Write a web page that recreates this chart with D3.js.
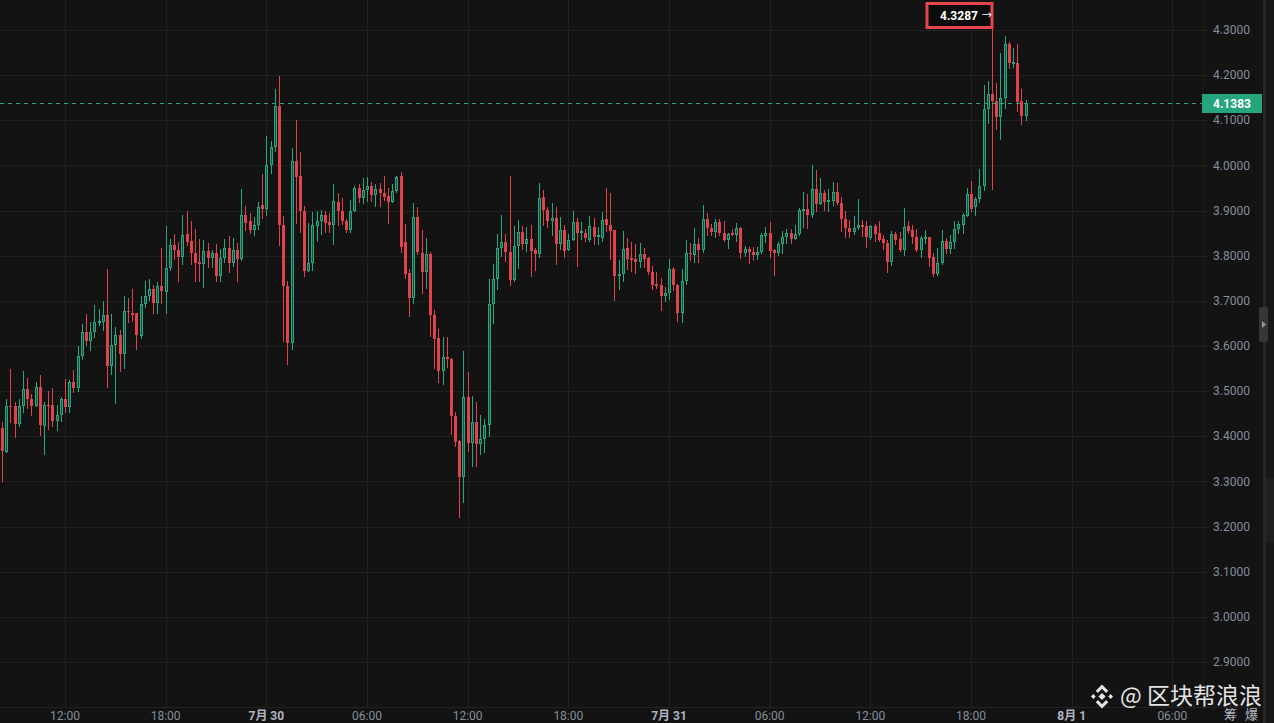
<!DOCTYPE html>
<html lang="zh-CN">
<head>
  <meta charset="utf-8">
  <script src="https://d3js.org/d3.v7.min.js"></script>
  <style>
    html, body { margin: 0; padding: 0; background: #131313; overflow: hidden; }
    svg { display: block; font-family: Roboto, "Noto Sans CJK SC", sans-serif; }
  </style>
</head>
<body>
  <div id="chart"></div>

  <script type="text/javascript">
    "use strict"

    // 15 minute candles, the first one opens 7/29 08:15
    var firstCandle = Date.UTC(2024, 6, 29, 8, 15);
    var step = 15 * 60 * 1000;

    var open = [
      3.419,3.366,3.468,3.466,3.427,3.468,3.505,3.483,3.467,3.510,
      3.423,3.470,3.470,3.434,3.447,3.483,3.465,3.521,3.507,3.577,
      3.631,3.611,3.631,3.651,3.654,3.669,3.556,3.603,3.625,3.583,
      3.678,3.673,3.672,3.622,3.693,3.711,3.726,3.695,3.733,3.720,
      3.773,3.823,3.813,3.798,3.848,3.833,3.807,3.785,3.782,3.811,
      3.795,3.806,3.756,3.795,3.817,3.784,3.813,3.792,3.890,3.876,
      3.856,3.867,3.912,3.904,4.000,4.040,4.131,3.868,3.732,3.607,
      4.009,3.976,3.900,3.766,3.783,3.865,3.876,3.890,3.875,3.867,
      3.918,3.899,3.878,3.858,3.900,3.949,3.927,3.945,3.955,3.935,
      3.948,3.938,3.932,3.918,3.944,3.976,3.830,3.761,3.707,3.885,
      3.806,3.764,3.804,3.669,3.618,3.545,3.576,3.572,3.445,3.389,
      3.309,3.486,3.386,3.432,3.384,3.395,3.425,3.694,3.749,3.817,
      3.831,3.809,3.747,3.821,3.853,3.825,3.837,3.812,3.803,3.930,
      3.902,3.876,3.884,3.826,3.858,3.812,3.834,3.875,3.851,3.851,
      3.834,3.864,3.841,3.840,3.882,3.869,3.856,3.755,3.760,3.817,
      3.795,3.792,3.786,3.803,3.794,3.763,3.737,3.735,3.711,3.718,
      3.770,3.735,3.673,3.743,3.807,3.802,3.827,3.813,3.882,3.862,
      3.853,3.875,3.851,3.835,3.850,3.845,3.862,3.807,3.814,3.808,
      3.801,3.808,3.844,3.850,3.812,3.805,3.827,3.842,3.851,3.836,
      3.849,3.900,3.904,3.890,3.947,3.915,3.940,3.919,3.922,3.942,
      3.917,3.881,3.862,3.853,3.862,3.869,3.866,3.840,3.865,3.851,
      3.836,3.829,3.785,3.848,3.837,3.813,3.866,3.857,3.841,3.813,
      3.838,3.841,3.798,3.759,3.783,3.833,3.814,3.831,3.859,3.868,
      3.888,3.937,3.907,3.925,3.955,4.124,4.159,4.142,4.108,4.150,
      4.268,4.225,4.227,4.142,4.109
    ];

    var high = [
      3.432,3.482,3.548,3.475,3.482,3.544,3.529,3.494,3.521,3.535,
      3.475,3.501,3.508,3.470,3.488,3.526,3.525,3.546,3.600,3.648,
      3.671,3.654,3.690,3.683,3.699,3.770,3.670,3.641,3.635,3.710,
      3.707,3.726,3.674,3.711,3.743,3.749,3.736,3.741,3.817,3.866,
      3.837,3.848,3.831,3.890,3.899,3.877,3.859,3.838,3.834,3.829,
      3.812,3.826,3.815,3.837,3.843,3.839,3.828,3.947,3.911,3.894,
      3.885,3.918,3.981,4.065,4.054,4.169,4.199,3.889,3.744,4.038,
      4.101,4.029,3.911,3.872,3.896,3.898,3.901,3.900,3.895,3.959,
      3.939,3.927,3.882,3.924,3.954,3.959,3.972,3.974,3.963,3.959,
      3.961,3.977,3.950,3.959,3.976,3.985,3.871,3.770,3.917,3.908,
      3.858,3.840,3.808,3.680,3.638,3.621,3.619,3.574,3.453,3.392,
      3.589,3.543,3.490,3.475,3.447,3.438,3.749,3.781,3.849,3.891,
      3.847,3.977,3.865,3.880,3.865,3.864,3.867,3.816,3.960,3.946,
      3.907,3.917,3.907,3.886,3.869,3.847,3.900,3.884,3.875,3.859,
      3.887,3.884,3.864,3.896,3.950,3.939,3.858,3.790,3.854,3.840,
      3.830,3.827,3.828,3.816,3.798,3.777,3.763,3.750,3.730,3.792,
      3.776,3.737,3.770,3.835,3.829,3.861,3.840,3.912,3.895,3.870,
      3.881,3.881,3.877,3.851,3.860,3.873,3.864,3.822,3.820,3.820,
      3.820,3.850,3.864,3.875,3.814,3.831,3.855,3.860,3.860,3.867,
      3.906,3.941,3.936,4.000,3.989,3.973,3.945,3.947,3.963,3.960,
      3.929,3.899,3.879,3.889,3.926,3.880,3.878,3.867,3.870,3.877,
      3.845,3.835,3.855,3.853,3.852,3.906,3.877,3.867,3.859,3.844,
      3.857,3.842,3.806,3.817,3.856,3.839,3.846,3.876,3.876,3.895,
      3.951,3.965,3.931,3.993,4.178,4.187,4.3287,4.183,4.248,4.286,
      4.273,4.261,4.268,4.170,4.146
    ];

    var low = [
      3.301,3.366,3.432,3.399,3.423,3.454,3.463,3.447,3.467,3.403,
      3.361,3.417,3.423,3.414,3.434,3.454,3.454,3.497,3.500,3.572,
      3.602,3.591,3.620,3.646,3.635,3.510,3.537,3.474,3.545,3.552,
      3.654,3.655,3.594,3.618,3.686,3.701,3.672,3.672,3.695,3.673,
      3.769,3.792,3.745,3.782,3.823,3.782,3.743,3.745,3.731,3.775,
      3.775,3.744,3.743,3.785,3.765,3.778,3.745,3.791,3.857,3.850,
      3.845,3.859,3.883,3.890,3.983,4.033,3.823,3.612,3.560,3.594,
      3.872,3.853,3.756,3.766,3.769,3.832,3.848,3.852,3.852,3.826,
      3.868,3.871,3.852,3.853,3.900,3.918,3.917,3.922,3.922,3.910,
      3.911,3.924,3.873,3.918,3.942,3.809,3.751,3.666,3.696,3.803,
      3.717,3.729,3.622,3.552,3.521,3.515,3.554,3.405,3.378,3.222,
      3.254,3.368,3.335,3.335,3.361,3.366,3.401,3.652,3.727,3.799,
      3.788,3.736,3.744,3.773,3.814,3.810,3.755,3.768,3.798,3.869,
      3.864,3.845,3.781,3.814,3.798,3.812,3.834,3.778,3.836,3.832,
      3.832,3.825,3.827,3.832,3.854,3.792,3.703,3.727,3.744,3.770,
      3.766,3.762,3.776,3.774,3.759,3.727,3.728,3.680,3.700,3.704,
      3.724,3.656,3.654,3.737,3.790,3.786,3.785,3.809,3.845,3.845,
      3.842,3.845,3.833,3.816,3.845,3.833,3.794,3.800,3.783,3.790,
      3.792,3.807,3.830,3.798,3.757,3.801,3.805,3.829,3.828,3.836,
      3.845,3.864,3.862,3.886,3.899,3.914,3.901,3.899,3.912,3.914,
      3.855,3.842,3.842,3.847,3.860,3.844,3.820,3.836,3.833,3.833,
      3.814,3.765,3.780,3.826,3.811,3.802,3.850,3.829,3.811,3.797,
      3.829,3.777,3.754,3.757,3.781,3.807,3.806,3.817,3.850,3.850,
      3.887,3.900,3.890,3.918,3.946,4.094,3.947,4.080,4.058,4.128,
      4.216,4.218,4.121,4.091,4.100
    ];

    var close = [
      3.367,3.468,3.465,3.427,3.468,3.505,3.482,3.467,3.510,3.425,
      3.469,3.467,3.434,3.448,3.483,3.465,3.521,3.507,3.577,3.631,
      3.611,3.631,3.654,3.656,3.669,3.556,3.603,3.625,3.583,3.678,
      3.675,3.668,3.624,3.693,3.711,3.726,3.695,3.734,3.721,3.773,
      3.823,3.812,3.798,3.845,3.831,3.807,3.784,3.781,3.811,3.795,
      3.806,3.756,3.795,3.817,3.784,3.813,3.792,3.890,3.873,3.856,
      3.867,3.909,3.904,4.000,4.040,4.131,3.867,3.732,3.607,4.009,
      3.974,3.898,3.766,3.783,3.867,3.876,3.890,3.873,3.867,3.921,
      3.898,3.878,3.858,3.900,3.949,3.927,3.946,3.954,3.935,3.948,
      3.938,3.930,3.918,3.944,3.974,3.820,3.759,3.707,3.885,3.808,
      3.764,3.804,3.669,3.616,3.545,3.576,3.571,3.445,3.388,3.309,
      3.486,3.386,3.432,3.384,3.395,3.425,3.694,3.749,3.817,3.831,
      3.808,3.747,3.821,3.852,3.825,3.837,3.810,3.803,3.927,3.901,
      3.876,3.883,3.826,3.857,3.810,3.834,3.875,3.851,3.854,3.840,
      3.865,3.841,3.845,3.880,3.868,3.854,3.755,3.760,3.815,3.793,
      3.790,3.786,3.803,3.792,3.763,3.735,3.732,3.711,3.718,3.770,
      3.735,3.673,3.743,3.807,3.803,3.827,3.813,3.882,3.862,3.853,
      3.875,3.850,3.835,3.849,3.845,3.862,3.807,3.814,3.808,3.801,
      3.808,3.845,3.850,3.811,3.805,3.827,3.842,3.851,3.836,3.849,
      3.901,3.904,3.890,3.948,3.915,3.940,3.919,3.923,3.942,3.917,
      3.881,3.861,3.853,3.862,3.869,3.864,3.842,3.866,3.847,3.835,
      3.829,3.785,3.848,3.835,3.813,3.864,3.855,3.841,3.813,3.839,
      3.841,3.794,3.759,3.783,3.833,3.814,3.831,3.859,3.870,3.890,
      3.937,3.903,3.925,3.955,4.124,4.159,4.142,4.108,4.150,4.268,
      4.227,4.229,4.141,4.109,4.1383
    ];

    var priceTicks = [2.9, 3.0, 3.1, 3.2, 3.3, 3.4, 3.5, 3.6, 3.7, 3.8, 3.9, 4.0, 4.1, 4.2, 4.3];
    // every 6 hours starting 7/29 12:00
    var timeLabels = ["12:00", "18:00", "7月 30", "06:00", "12:00", "18:00", "7月 31", "06:00", "12:00", "18:00", "8月 1", "06:00"];
    var lastPrice = 4.1383;

    var W = 1274, H = 723;
    var plotRight = 1203, axisLine = 707;
    var green = '#27a880', greenFill = '#1c4f40', red = '#df434b';
    var axisGray = '#848e9c', gridColor = '#212121';

    var candles = open.map(function (o, i) {
      return { t: new Date(firstCandle + i * step), o: o, h: high[i], l: low[i], c: close[i] };
    });

    var x = d3.scaleTime()
      .domain([new Date(Date.UTC(2024, 6, 29, 12)), new Date(Date.UTC(2024, 6, 31, 18))])
      .range([65, 971]);

    var y = d3.scaleLinear()
      .domain([2.9, 4.3])
      .range([662, 30]);

    var svg = d3.select('#chart').append('svg')
      .attr('width', W)
      .attr('height', H);

    svg.append('rect').attr('width', W).attr('height', H).attr('fill', '#131313');

    /*
     * grid
     */
    var timeTicks = timeLabels.map(function (lab, k) {
      return { t: new Date(Date.UTC(2024, 6, 29, 12) + k * 6 * 3600 * 1000), label: lab, bold: lab.indexOf('月') >= 0 };
    });

    svg.append('g').selectAll('line')
      .data(priceTicks)
      .join('line')
        .attr('x1', 0).attr('x2', plotRight + 4)
        .attr('y1', d => Math.round(y(d)) + 0.5)
        .attr('y2', d => Math.round(y(d)) + 0.5)
        .attr('stroke', gridColor);

    svg.append('g').selectAll('line')
      .data(timeTicks)
      .join('line')
        .attr('x1', d => Math.round(x(d.t)) + 0.5)
        .attr('x2', d => Math.round(x(d.t)) + 0.5)
        .attr('y1', 0).attr('y2', axisLine)
        .attr('stroke', gridColor);

    svg.append('line')
      .attr('x1', 0).attr('x2', W)
      .attr('y1', axisLine + 0.5).attr('y2', axisLine + 0.5)
      .attr('stroke', '#222');

    svg.append('line')
      .attr('x1', plotRight + 0.5).attr('x2', plotRight + 0.5)
      .attr('y1', 0).attr('y2', axisLine)
      .attr('stroke', '#1c1c1c');

    /*
     * candles
     */
    var g = svg.append('g').attr('shape-rendering', 'crispEdges');

    g.selectAll('line.wick')
      .data(candles)
      .join('line')
        .attr('class', 'wick')
        .attr('x1', d => Math.round(x(d.t)) + 0.5)
        .attr('x2', d => Math.round(x(d.t)) + 0.5)
        .attr('y1', d => Math.round(y(d.h)))
        .attr('y2', d => Math.round(y(d.l)) + 1)
        .attr('stroke', d => d.c >= d.o ? green : red);

    // red bodies are filled
    g.selectAll('rect.down')
      .data(candles.filter(d => d.c < d.o))
      .join('rect')
        .attr('class', 'down')
        .attr('x', d => Math.round(x(d.t)) - 1)
        .attr('y', d => Math.round(y(d.o)))
        .attr('width', 3)
        .attr('height', d => Math.max(1, Math.round(y(d.c)) - Math.round(y(d.o))))
        .attr('fill', red);

    // green bodies: dark fill with a green outline
    g.selectAll('rect.up')
      .data(candles.filter(d => d.c >= d.o))
      .join('rect')
        .attr('class', 'up')
        .attr('x', d => Math.round(x(d.t)) - 0.5)
        .attr('y', d => Math.round(y(d.c)) + 0.5)
        .attr('width', 2)
        .attr('height', d => Math.max(0, Math.round(y(d.o)) - Math.round(y(d.c)) - 1))
        .attr('fill', greenFill)
        .attr('stroke', green);

    /*
     * last price line and label
     */
    var yLast = Math.round(y(lastPrice)) + 0.5;
    svg.append('line')
      .attr('x1', 0).attr('x2', plotRight)
      .attr('y1', yLast).attr('y2', yLast)
      .attr('stroke', green)
      .attr('stroke-dasharray', '4,4');

    /*
     * price axis
     */
    svg.append('g').selectAll('text')
      .data(priceTicks)
      .join('text')
        .attr('x', 1213)
        .attr('y', d => y(d))
        .attr('dy', '0.35em')
        .attr('fill', axisGray)
        .style('font-size', '12px')
        .text(d => d3.format('.4f')(d));

    svg.append('rect')
      .attr('x', 1202).attr('y', yLast - 9.5)
      .attr('width', 60).attr('height', 19)
      .attr('fill', '#25a47d');
    svg.append('text')
      .attr('x', 1213).attr('y', yLast)
      .attr('dy', '0.36em')
      .attr('fill', '#ffffff')
      .style('font-size', '12px')
      .style('font-weight', 'bold')
      .text(d3.format('.4f')(lastPrice));

    /*
     * time axis
     */
    svg.append('g').selectAll('text')
      .data(timeTicks)
      .join('text')
        .attr('x', d => x(d.t))
        .attr('y', 720)
        .attr('text-anchor', 'middle')
        .attr('fill', d => d.bold ? '#aeb5c0' : axisGray)
        .style('font-size', '12px')
        .style('font-weight', d => d.bold ? 'bold' : 'normal')
        .text(d => d.label);

    /*
     * highest price marker
     */
    var peak = candles.reduce((a, d) => d.h > a.h ? d : a);
    var xPeak = Math.round(x(peak.t)) + 1;
    svg.append('rect')
      .attr('x', xPeak - 66).attr('y', 3.5)
      .attr('width', 65).attr('height', 24)
      .attr('fill', '#0c0c0c')
      .attr('stroke', '#e8444f')
      .attr('stroke-width', 3);
    svg.append('text')
      .attr('x', xPeak - 53).attr('y', 20)
      .attr('fill', '#ffffff')
      .style('font-size', '12px')
      .style('font-weight', 'bold')
      .text(d3.format('.4f')(peak.h));
    svg.append('text')
      .attr('x', xPeak - 11).attr('y', 19)
      .attr('fill', '#ffffff')
      .style('font-size', '10px')
      .text('→');

    /*
     * right edge strip and handle
     */
    svg.append('rect').attr('x', 1263).attr('y', 0).attr('width', 3).attr('height', H).attr('fill', '#262626');
    svg.append('rect').attr('x', 1266).attr('y', 0).attr('width', 8).attr('height', H).attr('fill', '#171717');
    svg.append('rect').attr('x', 1266).attr('y', 478).attr('width', 8).attr('height', 64).attr('fill', '#1f1f1f');
    svg.append('rect').attr('x', 1259).attr('y', 307).attr('width', 9).attr('height', 35).attr('rx', 2).attr('fill', '#363636');
    svg.append('path').attr('d', 'M1262,321 L1266,324.5 L1262,328 Z').attr('fill', '#9a9a9a');

    // bottom right buttons, under the watermark
    svg.append('text')
      .attr('x', 1224).attr('y', 719)
      .attr('fill', '#b4bac4')
      .style('font-family', '"Noto Sans CJK SC", sans-serif')
      .style('font-size', '13px')
      .text('筹');
    svg.append('text')
      .attr('x', 1245).attr('y', 719)
      .attr('fill', '#b4bac4')
      .style('font-family', '"Noto Sans CJK SC", sans-serif')
      .style('font-size', '13px')
      .text('爆');

    /*
     * watermark
     */
    var logo = svg.append('g')
      .attr('transform', 'translate(1102,696.5) scale(12)')
      .attr('fill', '#e4e4e4');
    logo.append('path').attr('d', 'M0,-0.3 L0.3,0 L0,0.3 L-0.3,0 Z');
    logo.append('path').attr('d', 'M-0.72,-0.2 L-0.52,0 L-0.72,0.2 L-0.92,0 Z');
    logo.append('path').attr('d', 'M0.72,-0.2 L0.92,0 L0.72,0.2 L0.52,0 Z');
    logo.append('path').attr('d', 'M0,-1 L0.52,-0.48 L0.34,-0.3 L0,-0.64 L-0.34,-0.3 L-0.52,-0.48 Z');
    logo.append('path').attr('d', 'M0,1 L0.52,0.48 L0.34,0.3 L0,0.64 L-0.34,0.3 L-0.52,0.48 Z');

    svg.append('text')
      .attr('x', 1120).attr('y', 704)
      .attr('fill', '#e4e4e4')
      .style('font-family', '"Noto Sans CJK SC", sans-serif')
      .style('font-size', '23px')
      .text('@ 区块帮浪浪');
  </script>
</body>
</html>
